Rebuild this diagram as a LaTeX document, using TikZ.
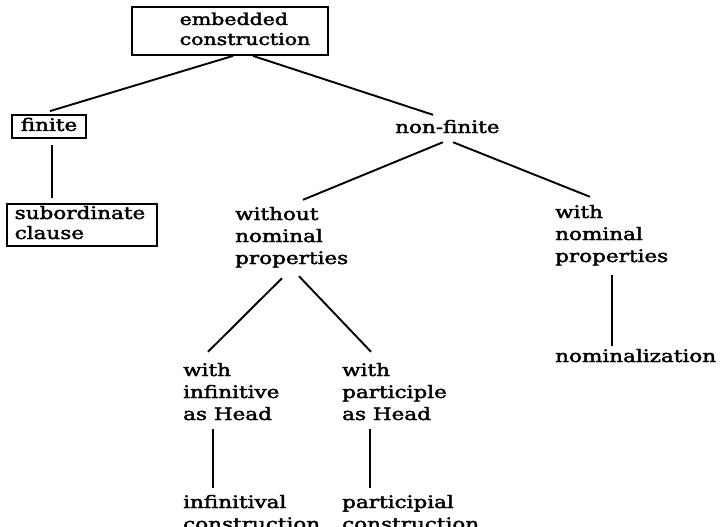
\documentclass[tikz,border=0pt]{standalone}
\usepackage{fontspec}
\usepackage{graphicx}
\setmainfont{DejaVu Serif}[FakeBold=2.0]
\newcommand\tx[3]{\scalebox{1}[0.8]{\fontsize{#1}{#2}\selectfont\begin{tabular}[t]{@{}l@{}}#3\end{tabular}}}
\tikzset{
  lbl/.style={inner sep=0pt, anchor=base west},
  boxnode/.style={draw, line width=1.8pt, inner xsep=0pt, inner ysep=0.5pt},
  conn/.style={line width=1.9pt},
}
\begin{document}
\begin{tikzpicture}[x=1pt,y=-1pt]
\useasboundingbox (0,0) rectangle (720,527);
% boxes
\node[boxnode, minimum width=196pt, minimum height=48pt] (top) at (230,31)
  {\hspace*{30pt}\tx{20.5}{25}{embedded\\construction}};
\node[boxnode, minimum width=74pt, minimum height=21pt] (finite) at (49,126.5)
  {\tx{21.5}{27.5}{finite}};
\node[boxnode, minimum width=150pt, minimum height=42pt] (sub) at (82,225)
  {\tx{21.5}{25}{subordinate\\clause}\hspace*{4pt}};
% plain labels
\node[lbl] (nonfinite) at (395,133) {\tx{21.5}{27.5}{non-finite}};
\node[lbl] (without) at (235,220) {\tx{21.5}{27.5}{without\\nominal\\properties}};
\node[lbl] (withnom) at (555,218) {\tx{21.5}{27.5}{with\\nominal\\properties}};
\node[lbl] (nomz) at (555,362) {\tx{21.5}{27.5}{nominalization}};
\node[lbl] (inf) at (183,376) {\tx{21.5}{27.5}{with\\infinitive\\as Head}};
\node[lbl] (part) at (342,376) {\tx{21.5}{27.5}{with\\participle\\as Head}};
\node[lbl] (infl) at (183,508) {\tx{21.5}{27.5}{infinitival\\construction}};
\node[lbl] (partl) at (342,508) {\tx{21.5}{27.5}{participial\\construction}};
% connectors
\draw[conn] ([xshift=3pt]top.south) -- ([xshift=1pt,yshift=3pt]finite.north);
\draw[conn] ([xshift=23pt]top.south) -- ([xshift=38pt,yshift=2.6pt]nonfinite.north west);
\draw[conn] ([xshift=3pt,yshift=-6pt]finite.south) -- ([xshift=-30pt,yshift=5pt]sub.north);
\draw[conn] ([xshift=48pt,yshift=-2.4pt]nonfinite.south west) -- ([xshift=68pt,yshift=4.6pt]without.north west);
\draw[conn] ([xshift=58pt,yshift=-2.4pt]nonfinite.south west) -- ([xshift=35pt,yshift=5.6pt]withnom.north west);
\draw[conn] ([xshift=47pt,yshift=-7.4pt]without.south west) -- ([xshift=25pt,yshift=8.6pt]inf.north west);
\draw[conn] ([xshift=64pt,yshift=-5.4pt]without.south west) -- ([xshift=29pt,yshift=8.6pt]part.north west);
\draw[conn] ([xshift=57pt,yshift=-6.4pt]withnom.south west) -- ([xshift=57pt]nomz.north west);
\draw[conn] ([xshift=30pt,yshift=-2.4pt]inf.south west) -- ([xshift=30pt,yshift=4.6pt]infl.north west);
\draw[conn] ([xshift=28pt,yshift=-2.4pt]part.south west) -- ([xshift=28pt,yshift=4.6pt]partl.north west);
\end{tikzpicture}
\end{document}
